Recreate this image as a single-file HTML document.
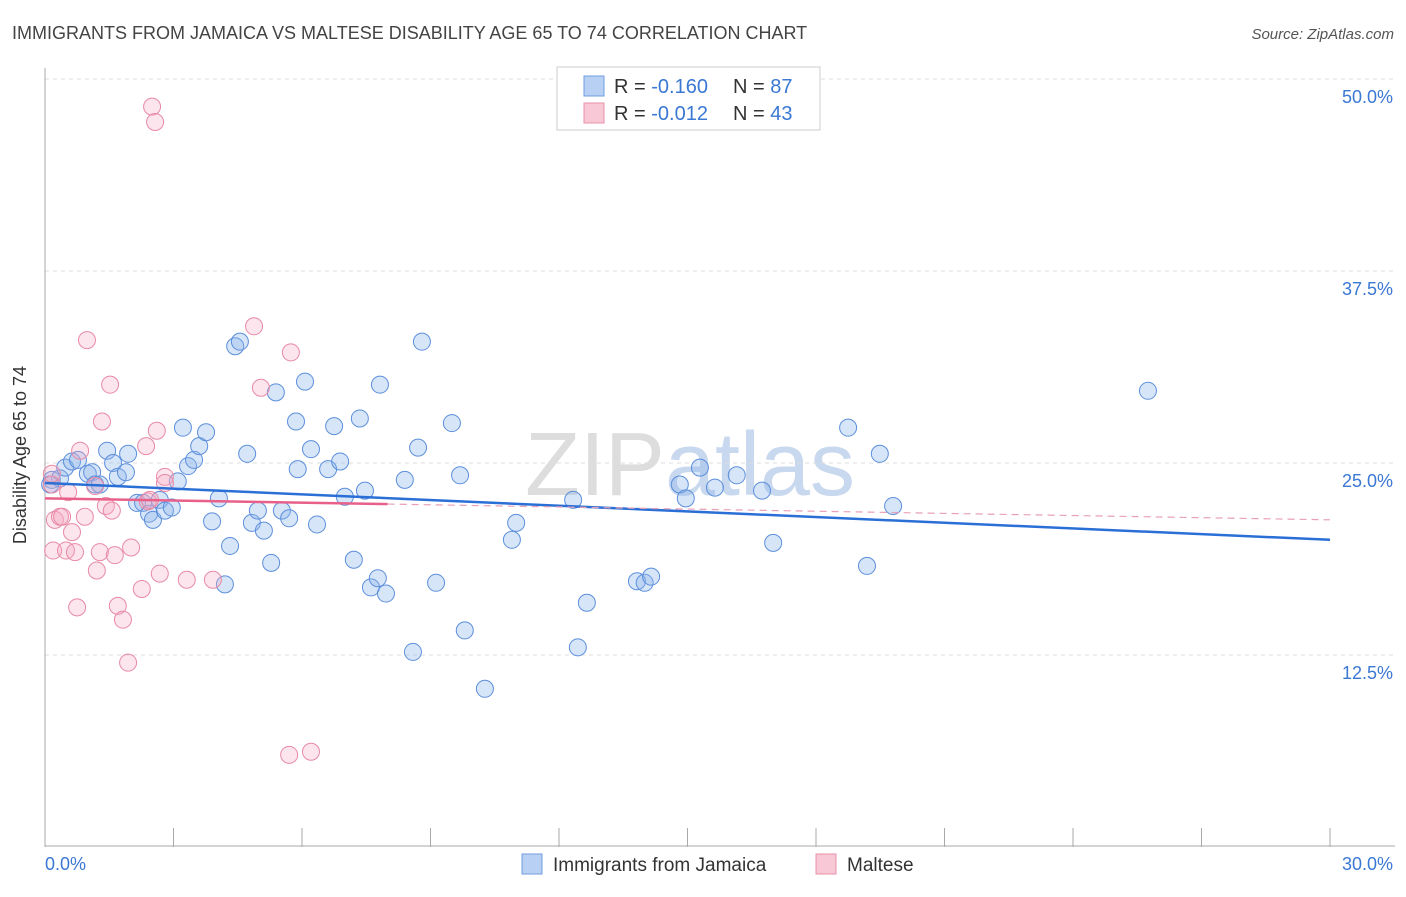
<!DOCTYPE html>
<html><head><meta charset="utf-8"><style>
body{margin:0;background:#fff;font-family:"Liberation Sans",sans-serif;}
svg text{font-family:"Liberation Sans",sans-serif;}
</style></head><body>
<svg id="chart" width="1406" height="892">
<text x="12" y="39" font-size="18" fill="#444">IMMIGRANTS FROM JAMAICA VS MALTESE DISABILITY AGE 65 TO 74 CORRELATION CHART</text>
<text x="1394" y="39" font-size="15" fill="#555" font-style="italic" text-anchor="end">Source: ZipAtlas.com</text>
<text x="690" y="495" font-size="90" fill="#ddd" text-anchor="middle" font-family="Liberation Serif">ZIP<tspan fill="#c8d8ee" font-family="Liberation Sans">atlas</tspan></text>
<g id="grid"></g><g id="axes"></g><g id="pts"></g><g id="trend"></g>
<text x="26" y="455" font-size="18" fill="#333" text-anchor="middle" transform="rotate(-90 26 455)">Disability Age 65 to 74</text>
<g>
<rect x="557" y="67" width="263" height="63" fill="#fff" stroke="#ccc"/>
<rect x="584" y="76" width="20" height="20" fill="#b8d0f4" stroke="#6f9ee0"/>
<text x="614" y="93" font-size="20" fill="#333">R = <tspan fill="#3a78d4">-0.160</tspan></text>
<text x="733" y="93" font-size="20" fill="#333">N = <tspan fill="#3a78d4">87</tspan></text>
<rect x="584" y="103" width="20" height="20" fill="#f9c8d6" stroke="#e890a8"/>
<text x="614" y="120" font-size="20" fill="#333">R = <tspan fill="#3a78d4">-0.012</tspan></text>
<text x="733" y="120" font-size="20" fill="#333">N = <tspan fill="#3a78d4">43</tspan></text>
</g>
<g>
<rect x="522" y="854" width="20" height="20" fill="#b8d0f4" stroke="#6f9ee0"/>
<text x="553" y="871" font-size="19" fill="#333">Immigrants from Jamaica</text>
<rect x="816" y="854" width="20" height="20" fill="#f9c8d6" stroke="#e890a8"/>
<text x="847" y="871" font-size="19" fill="#333">Maltese</text>
</g>
</svg>
<script>
const yTicks=[12.5,25.0,37.5,50.0];
const xTickLabels=["0.0%","30.0%"];
const blueX=[0.16,0.35,0.47,0.63,0.77,1.0,1.1,1.17,1.28,1.45,1.59,1.7,1.89,1.94,2.15,2.29,2.43,2.52,2.68,2.8,2.96,3.1,3.22,3.34,3.48,3.6,3.76,3.9,4.06,4.2,4.32,4.44,4.55,4.72,4.83,4.97,5.11,5.28,5.39,5.53,5.7,5.86,5.9,6.07,6.21,6.35,6.61,6.75,6.89,7.0,7.21,7.35,7.47,7.61,7.77,7.82,7.96,8.4,8.59,8.71,8.8,9.13,9.5,9.69,9.8,10.27,10.9,11.0,12.33,12.44,12.65,13.82,14.0,14.15,14.82,14.96,15.29,15.64,16.15,16.74,17.0,18.75,19.19,19.49,19.8,25.75,0.12];
const blueY=[23.9,24.0,24.7,25.1,25.2,24.3,24.4,23.6,23.6,25.8,25.0,24.1,24.4,25.6,22.4,22.4,21.7,21.3,22.6,21.9,22.1,23.8,27.3,24.8,25.2,26.1,27.0,21.2,22.7,17.1,19.6,32.6,32.9,25.6,21.1,21.9,20.6,18.5,29.6,21.9,21.4,27.7,24.6,30.3,25.9,21.0,24.6,27.4,25.1,22.8,18.7,27.9,23.2,16.9,17.5,30.1,16.5,23.9,12.7,26.0,32.9,17.2,27.6,24.2,14.1,10.3,20.0,21.1,22.6,13.0,15.9,17.3,17.2,17.6,23.6,22.7,24.7,23.4,24.2,23.2,19.8,27.3,18.3,25.6,22.2,29.7,23.6];
const pinkX=[0.16,0.23,0.19,0.35,0.4,0.49,0.54,0.63,0.7,0.75,0.82,0.93,0.98,1.17,1.21,1.28,1.33,1.42,1.52,1.56,1.63,1.7,1.82,1.94,2.01,2.26,2.36,2.4,2.5,2.57,2.61,2.68,2.8,2.8,3.31,3.92,4.88,5.04,5.7,5.74,6.21,0.16,2.45];
const pinkY=[23.6,21.3,19.3,21.5,21.5,19.3,23.1,20.5,19.2,15.6,25.8,21.5,33.0,23.5,18.0,19.2,27.7,22.2,30.1,21.9,19.0,15.7,14.8,12.0,19.5,16.8,26.1,22.5,48.2,47.2,27.1,17.8,24.1,23.7,17.4,17.4,33.9,29.9,6.0,32.2,6.2,24.3,22.6];
const blueTrend=[23.7,20.0], pinkTrend=[22.7,21.3], pinkSolidEnd=8.0;
const X0=45,X1=1330,YB=847,PPU=15.36;
const xs=v=>X0+v/30*(X1-X0), ys=v=>YB-v*PPU;
const NS="http://www.w3.org/2000/svg";
function mk(p,t,a){const e=document.createElementNS(NS,t);for(const k in a)e.setAttribute(k,a[k]);document.getElementById(p).appendChild(e);return e;}
yTicks.forEach(t=>{
 const g=mk('grid','line',{x1:X0,x2:1395,y1:ys(t),y2:ys(t),stroke:'#ddd','stroke-dasharray':'4,4'});
 
 
 const l=mk('grid','text',{x:1393,y:ys(t)+24,'font-size':18,fill:'#3a78d4','text-anchor':'end'});
 l.textContent=t.toFixed(1)+'%';
 
 
});
const ya=mk('axes','line',{x1:X0,x2:X0,y1:68,y2:YB,stroke:'#aaa'});


const xa=mk('axes','line',{x1:X0,x2:1395,y1:YB-1,y2:YB-1,stroke:'#aaa'});


for(let i=0;i<=10;i++){const tk=mk('axes','line',{x1:xs(i*3),x2:xs(i*3),y1:828,y2:YB,stroke:'#aaa'});
 
 }
const l0=mk('axes','text',{x:45,y:870,'font-size':18,fill:'#3a78d4'});l0.textContent=xTickLabels[0];


const l1=mk('axes','text',{x:1393,y:870,'font-size':18,fill:'#3a78d4','text-anchor':'end'});l1.textContent=xTickLabels[1];


blueX.forEach((x,i)=>{const c=mk('pts','circle',{cx:xs(x),cy:ys(blueY[i]),r:8.5,fill:'rgba(140,180,235,0.35)',stroke:'#5c8fdc','stroke-width':1});
 
 });
pinkX.forEach((x,i)=>{const c=mk('pts','circle',{cx:xs(x),cy:ys(pinkY[i]),r:8.5,fill:'rgba(245,170,195,0.3)',stroke:'#e88aa6','stroke-width':1});
 
 });
const bt=mk('trend','line',{x1:xs(0),y1:ys(blueTrend[0]),x2:xs(30),y2:ys(blueTrend[1]),stroke:'#2a6fd6','stroke-width':2.5});


const pe=pinkTrend[0]+(pinkTrend[1]-pinkTrend[0])*pinkSolidEnd/30;
const pt=mk('trend','line',{x1:xs(0),y1:ys(pinkTrend[0]),x2:xs(pinkSolidEnd),y2:ys(pe),stroke:'#e8608a','stroke-width':2.5});


const pd=mk('trend','line',{x1:xs(pinkSolidEnd),y1:ys(pe),x2:xs(30),y2:ys(pinkTrend[1]),stroke:'#e8a0b6','stroke-width':1.2,'stroke-dasharray':'7,5'});


</script>
</body></html>
